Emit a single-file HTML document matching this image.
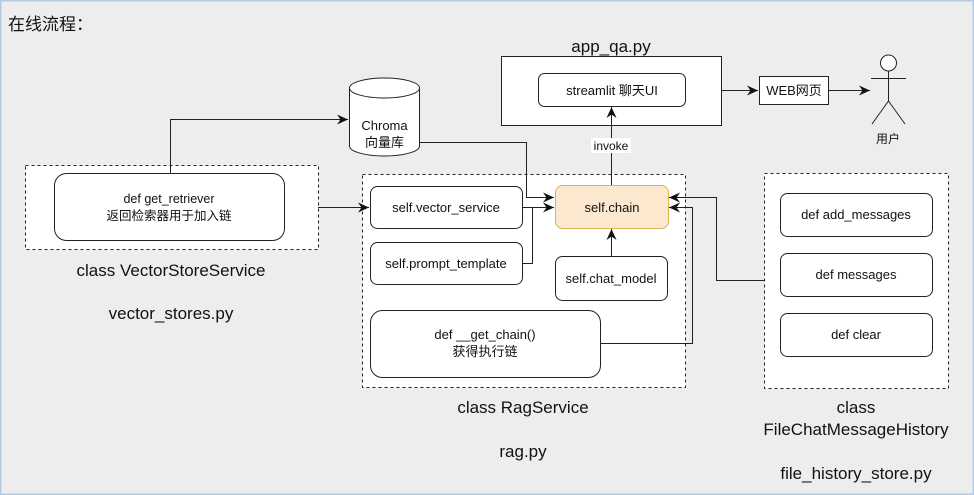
<!DOCTYPE html>
<html><head><meta charset="utf-8"><style>
html,body{margin:0;padding:0;width:974px;height:495px;overflow:hidden;background:#eceded;}
svg{display:block}
text{font-family:"Liberation Sans","Noto Sans CJK SC",sans-serif;fill:#111;}
</style></head><body>
<svg width="974" height="495" viewBox="0 0 974 495" xmlns="http://www.w3.org/2000/svg">
<defs><marker id="a" markerWidth="12" markerHeight="12" refX="11" refY="6" orient="auto" markerUnits="userSpaceOnUse"><path d="M0,1 L11,6 L0,11 L3.5,6 Z" fill="#111"/></marker></defs>
<rect x="0.5" y="0.5" width="973" height="494" fill="#ededed" stroke="#b7c9e2" stroke-width="2"/>
<text x="8" y="30" font-size="17">在线流程：</text>

<rect x="25.5" y="165.5" width="293" height="84" fill="#fff" stroke="#222" stroke-dasharray="3,3"/>
<rect x="54.5" y="173.5" width="230" height="67" rx="12" fill="#fff" stroke="#222"/>
<text x="169" y="203" font-size="12.5" text-anchor="middle">def get_retriever</text>
<text x="169" y="220" font-size="12.5" text-anchor="middle">返回检索器用于加入链</text>
<text x="171" y="276" font-size="17" text-anchor="middle">class VectorStoreService</text>
<text x="171" y="319" font-size="17" text-anchor="middle">vector_stores.py</text>

<path d="M349.5,88 L349.5,146 A35,10 0 0 0 419.5,146 L419.5,88" fill="#fff" stroke="#222"/>
<ellipse cx="384.5" cy="88" rx="35" ry="10" fill="#fff" stroke="#222"/>
<text x="384.5" y="130" font-size="13" text-anchor="middle">Chroma</text>
<text x="384.5" y="147" font-size="13" text-anchor="middle">向量库</text>
<path d="M170.5,174 V119.5 H348" fill="none" stroke="#222" marker-end="url(#a)"/>

<rect x="362.5" y="174.5" width="323" height="213" fill="#fff" stroke="#222" stroke-dasharray="3,3"/>
<rect x="370.5" y="186.5" width="152" height="42" rx="7" fill="#fff" stroke="#222"/>
<text x="446" y="212" font-size="13" text-anchor="middle">self.vector_service</text>
<rect x="370.5" y="242.5" width="152" height="42" rx="7" fill="#fff" stroke="#222"/>
<text x="446" y="268" font-size="13" text-anchor="middle">self.prompt_template</text>
<rect x="555.5" y="185.5" width="113" height="43" rx="7" fill="#fce8cf" stroke="#d6b656"/>
<text x="612" y="212" font-size="13" text-anchor="middle">self.chain</text>
<rect x="555.5" y="256.5" width="112" height="44" rx="7" fill="#fff" stroke="#222"/>
<text x="611" y="283" font-size="13" text-anchor="middle">self.chat_model</text>
<rect x="370.5" y="310.5" width="230" height="67" rx="12" fill="#fff" stroke="#222"/>
<text x="485" y="339" font-size="13" text-anchor="middle">def __get_chain()</text>
<text x="485" y="356" font-size="13" text-anchor="middle">获得执行链</text>
<text x="523" y="413" font-size="17" text-anchor="middle">class RagService</text>
<text x="523" y="457" font-size="17" text-anchor="middle">rag.py</text>

<path d="M318,207.5 H369" fill="none" stroke="#222" marker-end="url(#a)"/>
<path d="M419.5,142.5 H526.5 V197.5 H554" fill="none" stroke="#222" marker-end="url(#a)"/>
<path d="M522.5,207.5 H554" fill="none" stroke="#222" marker-end="url(#a)"/>
<path d="M522.5,263.5 H532.5 V207.5" fill="none" stroke="#222"/>
<path d="M611.5,256 V229" fill="none" stroke="#222" marker-end="url(#a)"/>
<path d="M600.5,343.5 H692.5 V207.5 H669" fill="none" stroke="#222" marker-end="url(#a)"/>

<text x="611" y="52" font-size="17" text-anchor="middle">app_qa.py</text>
<rect x="501.5" y="56.5" width="220" height="69" fill="#fff" stroke="#222"/>
<rect x="538.5" y="73.5" width="147" height="33" rx="6" fill="#fff" stroke="#222"/>
<text x="612" y="95" font-size="13" text-anchor="middle">streamlit 聊天UI</text>
<path d="M611.5,185 V107" fill="none" stroke="#222" marker-end="url(#a)"/>
<rect x="591" y="138" width="40" height="15" fill="#fff"/>
<text x="611" y="150" font-size="12" text-anchor="middle">invoke</text>
<path d="M721.5,90.5 H758" fill="none" stroke="#222" marker-end="url(#a)"/>
<rect x="759.5" y="76.5" width="69" height="28" fill="#fff" stroke="#222"/>
<text x="794" y="95" font-size="13" text-anchor="middle">WEB网页</text>
<path d="M828.5,90.5 H870" fill="none" stroke="#222" marker-end="url(#a)"/>
<g stroke="#222" fill="none">
<circle cx="888.5" cy="63" r="8" fill="#fff"/>
<path d="M888.5,71 V101 M871,78.5 H906 M888.5,101 L872,124 M888.5,101 L905,124"/>
</g>
<text x="888" y="143" font-size="12" text-anchor="middle">用户</text>

<rect x="764.5" y="173.5" width="184" height="215" fill="#fff" stroke="#222" stroke-dasharray="3,3"/>
<rect x="780.5" y="193.5" width="152" height="43" rx="7" fill="#fff" stroke="#222"/>
<text x="856" y="219" font-size="13" text-anchor="middle">def add_messages</text>
<rect x="780.5" y="253.5" width="152" height="43" rx="7" fill="#fff" stroke="#222"/>
<text x="856" y="279" font-size="13" text-anchor="middle">def messages</text>
<rect x="780.5" y="313.5" width="152" height="43" rx="7" fill="#fff" stroke="#222"/>
<text x="856" y="339" font-size="13" text-anchor="middle">def clear</text>
<path d="M764,280.5 H716.5 V197.5 H669" fill="none" stroke="#222" marker-end="url(#a)"/>
<text x="856" y="413" font-size="17" text-anchor="middle">class</text>
<text x="856" y="435" font-size="17" text-anchor="middle">FileChatMessageHistory</text>
<text x="856" y="479" font-size="17" text-anchor="middle">file_history_store.py</text>
</svg>
</body></html>
